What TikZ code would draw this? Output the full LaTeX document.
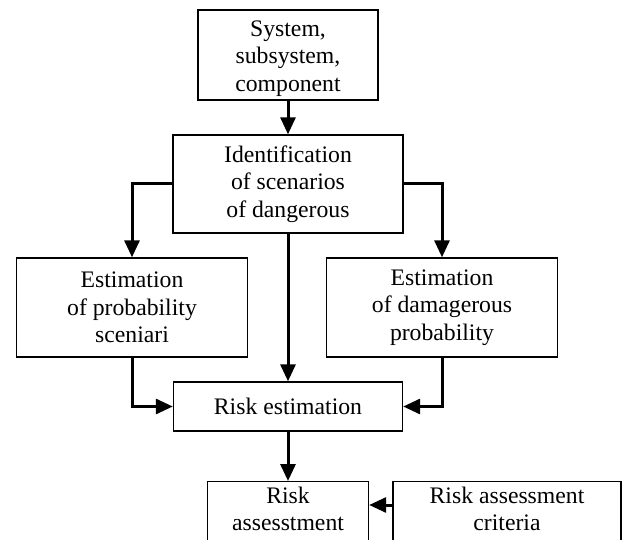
\documentclass[tikz,border=0pt]{standalone}
\usepackage{fontspec}
\setmainfont{Liberation Serif}
\usetikzlibrary{arrows.meta}

\begin{document}
\begin{tikzpicture}[x=1pt,y=-1pt,
  box/.style={draw,line width=1.4pt,align=center,inner sep=0pt,
    font=\fontsize{23.7pt}{27.5pt}\selectfont},
  arr/.style={line width=3pt,-{Triangle[length=17pt,width=15pt]}}]
  % page = scan size, pixel units (y grows downward)
  \useasboundingbox (0,0) rectangle (622,540);

  % top chain
  \node[box,minimum width=180pt,minimum height=90pt,text height=78pt] (sys) at (288,55)
    {System,\\subsystem,\\component};
  \node[box,minimum width=230pt,minimum height=98pt] (ident) at (288,184)
    {Identification\\of scenarios\\of dangerous};

  % the two estimations
  \node[box,minimum width=231pt,minimum height=99pt] (estprob) at (132,307.5)
    {Estimation\\of probability\\sceniari};
  \node[box,minimum width=231pt,minimum height=99pt] (estdam) at (442,307.5)
    {Estimation\\of damagerous\\probability};

  \node[box,minimum width=229pt,minimum height=49pt] (riskest) at (288,406.5)
    {Risk estimation};

  % bottom row, cut by the page edge as in the scan
  \node[box,minimum width=161pt,minimum height=62pt,anchor=north,text depth=8pt] (assess) at (288,481)
    {Risk\\assesstment};
  \node[box,minimum width=228pt,minimum height=62pt,anchor=north,text depth=8pt] (crit) at (507,481)
    {Risk assessment\\criteria};

  % connectors
  \draw[arr] (sys.south) -- (ident.north);
  \draw[arr] (ident.west) -| (estprob.north);
  \draw[arr] (ident.east) -| (estdam.north);
  \draw[arr] (ident.south) -- (riskest.north);
  \draw[arr] (estprob.south) |- (riskest.west);
  \draw[arr] (estdam.south) |- (riskest.east);
  \draw[arr] (riskest.south) -- (assess.north);
  \draw[arr] ([yshift=-24pt]crit.north west) -- ([yshift=-24pt]assess.north east);
\end{tikzpicture}
\end{document}
